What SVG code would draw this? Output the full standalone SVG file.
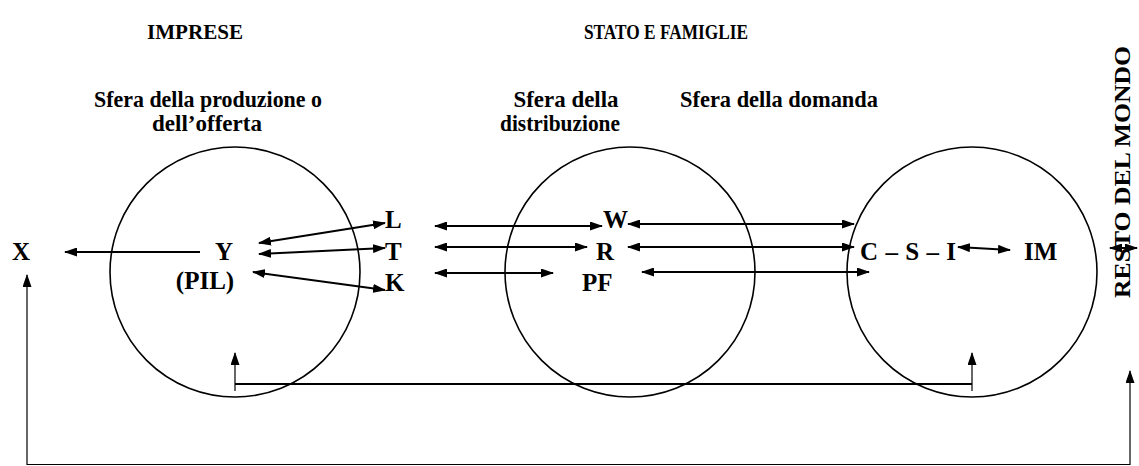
<svg xmlns="http://www.w3.org/2000/svg" width="1139" height="466" viewBox="0 0 1139 466">
<style>
.t{font-family:"Liberation Serif","Times New Roman",serif;font-weight:bold;fill:#000}
.h{font-size:22px}
.s{font-size:23px}
.n{font-size:25px}
.c{fill:none;stroke:#000;stroke-width:1.6}
.a{fill:none;stroke:#000;stroke-width:2}
.b{fill:none;stroke:#000;stroke-width:1.2}
</style>
<defs>
<marker id="ah" markerUnits="userSpaceOnUse" markerWidth="13" markerHeight="9" refX="12" refY="4.5" orient="auto-start-reverse">
<path d="M0,0 L13,4.5 L0,9 z" fill="#000"/>
</marker>
</defs>
<rect width="1139" height="466" fill="#fff"/>
<g id="titles">
<text class="t h" x="195" y="39" text-anchor="middle" textLength="96" lengthAdjust="spacingAndGlyphs">IMPRESE</text>
<text class="t h" x="666" y="39" text-anchor="middle" textLength="164" lengthAdjust="spacingAndGlyphs">STATO E FAMIGLIE</text>
</g>
<g id="sfera-produzione">
<circle class="c" cx="235" cy="272" r="125"/>
<text class="t s" x="208" y="107" text-anchor="middle" textLength="228" lengthAdjust="spacingAndGlyphs">Sfera della produzione o</text>
<text class="t s" x="207" y="131" text-anchor="middle" textLength="110" lengthAdjust="spacingAndGlyphs">dell’offerta</text>
</g>
<g id="sfera-distribuzione">
<circle class="c" cx="630" cy="272" r="125"/>
<text class="t s" x="566" y="107" text-anchor="middle" textLength="105" lengthAdjust="spacingAndGlyphs">Sfera della</text>
<text class="t s" x="560" y="131" text-anchor="middle" textLength="120" lengthAdjust="spacingAndGlyphs">distribuzione</text>
</g>
<g id="sfera-domanda">
<circle class="c" cx="972" cy="272" r="125"/>
<text class="t s" x="779" y="107" text-anchor="middle" textLength="198" lengthAdjust="spacingAndGlyphs">Sfera della domanda</text>
</g>
<g id="resto-mondo">
<text class="t" font-size="24" transform="translate(1130,172) rotate(-90)" text-anchor="middle" textLength="252" lengthAdjust="spacingAndGlyphs">RESTO DEL MONDO</text>
</g>
<g id="X"><text class="t n" x="21" y="260" text-anchor="middle">X</text></g>
<g id="Y"><text class="t n" x="224" y="260" text-anchor="middle">Y</text><text class="t n" x="205" y="289" text-anchor="middle">(PIL)</text></g>
<g id="L"><text class="t n" x="385" y="228">L</text></g>
<g id="T"><text class="t n" x="385" y="260">T</text></g>
<g id="K"><text class="t n" x="385" y="291">K</text></g>
<g id="W"><text class="t n" x="603" y="228">W</text></g>
<g id="R"><text class="t n" x="596" y="260">R</text></g>
<g id="PF"><text class="t n" x="582" y="291">PF</text></g>
<g id="CSI"><text class="t n" x="860" y="260" textLength="96" lengthAdjust="spacing">C – S – I</text></g>
<g id="IM"><text class="t n" x="1024" y="260">IM</text></g>
<g id="connectors">
<line class="a" x1="200" y1="252" x2="65" y2="252" marker-end="url(#ah)"/>
<line class="a" x1="259" y1="243" x2="385" y2="223" marker-start="url(#ah)" marker-end="url(#ah)"/>
<line class="a" x1="259" y1="254" x2="385" y2="248" marker-start="url(#ah)" marker-end="url(#ah)"/>
<line class="a" x1="253" y1="272" x2="385" y2="290" marker-start="url(#ah)" marker-end="url(#ah)"/>
<line class="a" x1="435" y1="226" x2="602" y2="226" marker-start="url(#ah)" marker-end="url(#ah)"/>
<line class="a" x1="435" y1="247" x2="587" y2="247" marker-start="url(#ah)" marker-end="url(#ah)"/>
<line class="a" x1="435" y1="273" x2="553" y2="273" marker-start="url(#ah)" marker-end="url(#ah)"/>
<line class="a" x1="628" y1="224" x2="854" y2="224" marker-start="url(#ah)" marker-end="url(#ah)"/>
<line class="a" x1="628" y1="247" x2="854" y2="247" marker-start="url(#ah)" marker-end="url(#ah)"/>
<line class="a" x1="642" y1="272" x2="869" y2="272" marker-start="url(#ah)" marker-end="url(#ah)"/>
<line class="a" x1="958" y1="247" x2="1010" y2="250" marker-start="url(#ah)" marker-end="url(#ah)"/>
<line class="a" x1="1110" y1="248" x2="1137" y2="248" marker-start="url(#ah)" marker-end="url(#ah)"/>
<line class="a" x1="235" y1="384" x2="972" y2="384"/>
<line class="b" x1="235" y1="391" x2="235" y2="353" marker-end="url(#ah)"/>
<line class="b" x1="972" y1="391" x2="972" y2="353" marker-end="url(#ah)"/>
<line class="b" x1="27" y1="464.5" x2="1130" y2="464.5"/>
<line class="b" x1="27" y1="465" x2="27" y2="275" marker-end="url(#ah)"/>
<line class="b" x1="1130" y1="465" x2="1130" y2="371" marker-end="url(#ah)"/>
</g>
</svg>
